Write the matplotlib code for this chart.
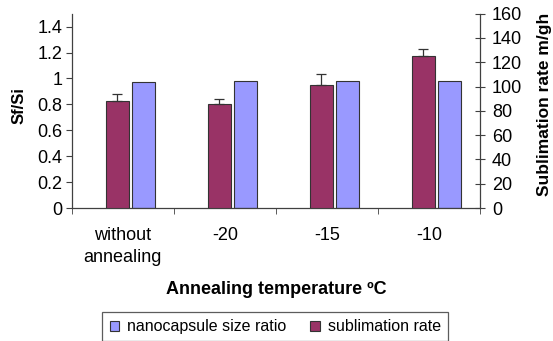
import matplotlib
matplotlib.use('Agg')
import matplotlib.pyplot as plt
import numpy as np

# data
categories = ['without\nannealing', '-20', '-15', '-10']
size_ratio = [0.971, 0.983, 0.983, 0.983]          # Sf/Si, left axis
sublimation = [88.2, 86.0, 101.1, 124.9]            # m/gh, right axis
sublimation_err = [6.0, 4.1, 9.6, 6.3]

left_ticks = [0, 0.2, 0.4, 0.6, 0.8, 1.0, 1.2, 1.4]
left_tick_labels = ['0', '0.2', '0.4', '0.6', '0.8', '1', '1.2', '1.4']
right_ticks = [0, 20, 40, 60, 80, 100, 120, 140, 160]

plt.rcParams['font.family'] = ['Liberation Sans', 'DejaVu Sans']

blue = '#9999ff'
maroon = '#993366'
axis_col = '#404040'

fig = plt.figure(figsize=(5.53, 3.41), dpi=100)
ax = fig.add_axes([0.130, 0.390, 0.738, 0.570])
ax2 = ax.twinx()

x = np.arange(len(categories))
width = 0.225
shift = 0.07
sep = 0.1275

ax.bar(x + shift + sep, size_ratio, width, color=blue, edgecolor='#333333', linewidth=0.8, zorder=2)
ax2.bar(x + shift - sep, sublimation, width, color=maroon, edgecolor='#333333', linewidth=0.8, zorder=2)
ax2.errorbar(x + shift - sep, sublimation, yerr=[np.zeros(len(x)), sublimation_err],
             fmt='none', ecolor='#333333', elinewidth=0.9, capsize=3.5, capthick=0.9, zorder=3)

ax.set_xlim(-0.5, len(categories) - 0.5)
ax.set_ylim(0, 1.5)
ax2.set_ylim(0, 160)

ax.set_xticks(x)
ax.set_xticklabels(categories, fontsize=13, linespacing=1.35)
ax.set_xticks(np.arange(-0.5, len(categories)), minor=True)
ax.tick_params(axis='x', which='major', length=0, pad=14)
ax.tick_params(axis='x', which='minor', length=4, direction='out', color=axis_col)

ax.set_yticks(left_ticks)
ax.set_yticklabels(left_tick_labels, fontsize=13)
ax.tick_params(axis='y', length=4, direction='out', color=axis_col, pad=3)
ax2.set_yticks(right_ticks)
ax2.tick_params(axis='y', length=7, direction='inout', color=axis_col, labelsize=13, pad=5)

for a in (ax, ax2):
    a.spines['top'].set_visible(False)
    for s in ('left', 'right', 'bottom'):
        a.spines[s].set_color(axis_col)
        a.spines[s].set_linewidth(0.9)
ax.spines['right'].set_visible(False)
ax2.spines['left'].set_visible(False)
ax2.spines['bottom'].set_visible(False)

ax.set_ylabel('Sf/Si', fontsize=12, fontweight='bold')
ax.yaxis.set_label_coords(-0.11, 0.527)
ax2.set_ylabel('Sublimation rate m/gh', fontsize=12.5, fontweight='bold')
ax2.yaxis.set_label_coords(1.14, 0.535)
ax.set_xlabel('Annealing temperature ºC', fontsize=13, fontweight='bold')
ax.xaxis.set_label_coords(0.5, -0.375)

handles = [plt.Rectangle((0, 0), 1, 1, facecolor=blue, edgecolor='#333333', linewidth=0.8),
           plt.Rectangle((0, 0), 1, 1, facecolor=maroon, edgecolor='#333333', linewidth=0.8)]
leg = fig.legend(handles, ['nanocapsule size ratio', 'sublimation rate'],
                 loc='upper center', bbox_to_anchor=(0.498, 0.085), ncol=2,
                 fontsize=11.5, frameon=True, fancybox=False, borderaxespad=0,
                 handlelength=0.6, handleheight=0.6, handletextpad=0.5,
                 columnspacing=1.5, borderpad=0.45)
leg.get_frame().set_edgecolor('#333333')
leg.get_frame().set_linewidth(0.9)

fig.savefig('out.png', dpi=100)
